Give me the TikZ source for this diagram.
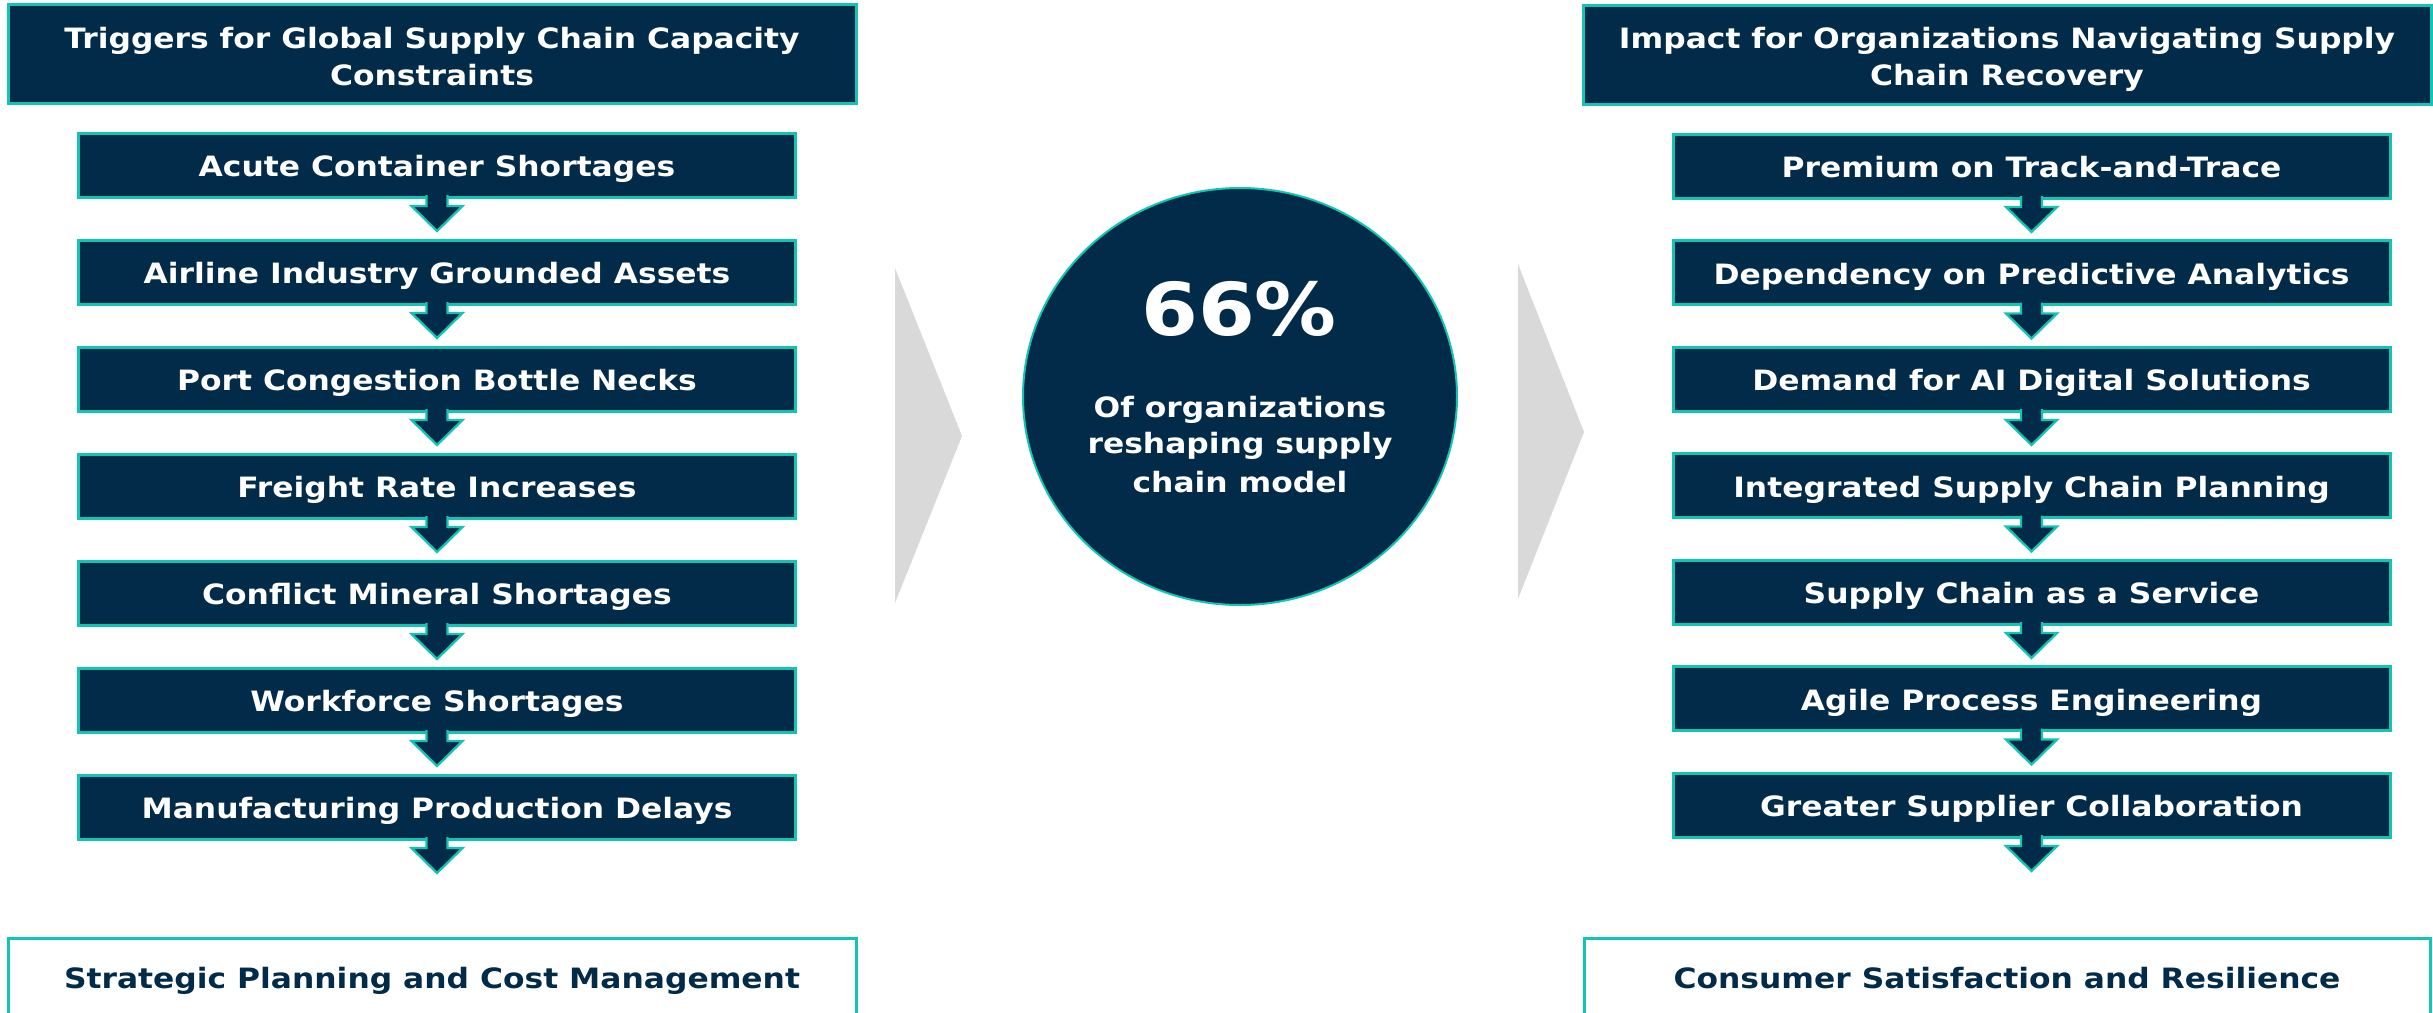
\documentclass[tikz,border=0pt]{standalone}
\usepackage{fontspec}
\setmainfont{DejaVu Sans}[FakeStretch=1.12]
\usetikzlibrary{shapes.geometric,calc}
\definecolor{navy}{HTML}{022B4A}
\definecolor{rim}{HTML}{12C4B3}
\definecolor{chevgray}{HTML}{D9D9D9}

% block arrow hanging below a step box
\newcommand\blockdown[1]{%
  \filldraw[downarrow] ($(#1.south)+(-10.5,-2)$) -- ($(#1.south)+(-10.5,9)$)
    -- ($(#1.south)+(-25.5,9)$) -- ($(#1.south)+(0,34)$)
    -- ($(#1.south)+(25.5,9)$) -- ($(#1.south)+(10.5,9)$)
    -- ($(#1.south)+(10.5,-2)$);}

\begin{document}
\begin{tikzpicture}[x=1pt,y=-1pt,
  box/.style={rectangle, draw=rim, line width=3pt, inner sep=0pt, outer sep=0pt,
    font=\bfseries\fontsize{28pt}{37pt}\selectfont},
  darkbox/.style={box, fill=navy, text=white},
  headbox/.style={darkbox, minimum width=848pt, minimum height=99pt},
  stepbox/.style={darkbox, minimum width=717pt, minimum height=64pt,
    text height=23pt, text depth=0pt},
  footbox/.style={box, fill=white, text=navy, minimum width=848pt, minimum height=80pt,
    text height=22pt, text depth=2pt},
  line/.style={anchor=base, inner sep=0pt, text=white,
    font=\bfseries\fontsize{28pt}{37pt}\selectfont},
  downarrow/.style={fill=navy, draw=rim, line width=2.3pt, line join=miter},
  chevron/.style={fill=chevgray, draw=none}]

\useasboundingbox (0,0) rectangle (2433,1012);
\clip (0,0) rectangle (2433,1012);

% ---------- left column: triggers ----------
\node (lhead) [headbox] at (432,54) {};
\node (lhead1) [line] at ($(lhead.center)+(0,-6)$) {Triggers for Global Supply Chain Capacity};
\node (lhead2) [line] at ($(lhead.center)+(0,31)$) {Constraints};

\foreach \t [count=\i from 0] in {Acute Container Shortages,
    Airline Industry Grounded Assets, Port Congestion Bottle Necks,
    Freight Rate Increases, Conflict Mineral Shortages,
    Workforce Shortages, Manufacturing Production Delays}{
  \node (L\i) [stepbox] at (437,{165+107*\i}) {\t};
  \blockdown{L\i}
}

\node (lfoot) [footbox] at (432,978) {Strategic Planning and Cost Management};

% ---------- centre: statistic ----------
\fill[chevron] (895,268) -- (962,436) -- (895,603) -- cycle;
\fill[chevron] (1518,264) -- (1584,432) -- (1518,599) -- cycle;

\node (stat) [ellipse, fill=navy, draw=rim, line width=2pt, inner sep=0pt,
  minimum width=434pt, minimum height=417pt] at (1240,396.5) {};
\node (pct) [line, font=\bfseries\fontsize{73pt}{80pt}\selectfont]
  at ($(stat.center)+(-1,-61.5)$) {66\%};
\node (stat1) [line] at ($(stat.center)+(0,20.5)$) {Of organizations};
\node (stat2) [line] at ($(stat.center)+(0,57)$) {reshaping supply};
\node (stat3) [line] at ($(stat.center)+(0,95.5)$) {chain model};

% ---------- right column: impact ----------
\node (rhead) [headbox] at (2007,54.5) {};
\node (rhead1) [line] at ($(rhead.center)+(0,-6.5)$) {Impact for Organizations Navigating Supply};
\node (rhead2) [line] at ($(rhead.center)+(0,30.5)$) {Chain Recovery};

\foreach \t [count=\i from 0] in {Premium on Track-and-Trace,
    Dependency on Predictive Analytics, Demand for AI Digital Solutions,
    Integrated Supply Chain Planning, Supply Chain as a Service,
    Agile Process Engineering, Greater Supplier Collaboration}{
  \node (R\i) [stepbox] at (2031.5,{166+106.5*\i}) {\t};
  \blockdown{R\i}
}

\node (rfoot) [footbox, minimum width=846pt] at (2007,978) {Consumer Satisfaction and Resilience};
\end{tikzpicture}
\end{document}
